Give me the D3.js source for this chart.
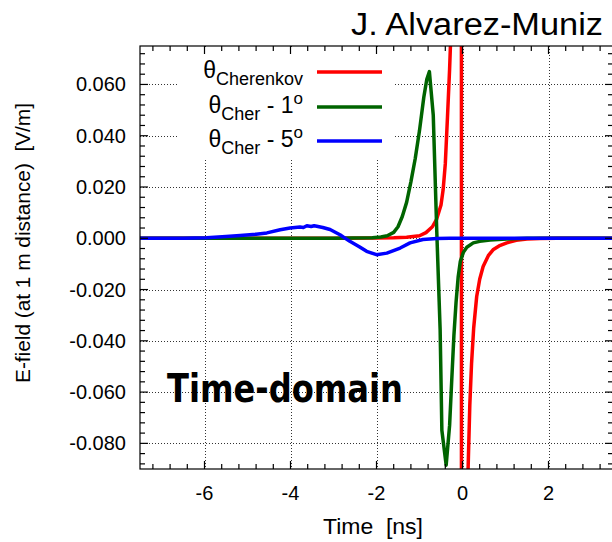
<!DOCTYPE html>
<html>
<head>
<meta charset="utf-8">
<script src="https://cdn.jsdelivr.net/npm/d3@7"></script>
<style>
  body { margin:0; background:#fff; }
  text { font-family: "Liberation Sans", Arial, sans-serif; fill:#000; }
</style>
</head>
<body>
<div id="chart"></div>
<script>
// data (time in ns, field in V/m)
var cherT = [-7.5, -3, -2, -1.6, -1.3, -1.0, -0.85, -0.7, -0.6, -0.5, -0.45, -0.4, -0.35, -0.3, -0.27, -0.2, -0.1, -0.03, -0.02, 0.05, 0.1, 0.13, 0.17, 0.21, 0.26, 0.33, 0.4, 0.48, 0.6, 0.71, 0.85, 1.03, 1.25, 1.5, 1.8, 2.2, 3.5];
var cherV = [0, 0, 0.0001, 0.0002, 0.0004, 0.001, 0.0022, 0.0045, 0.0075, 0.013, 0.019, 0.029, 0.047, 0.066, 0.08, 0.12, 0.4, 0.9, -0.9, -0.4, -0.14, -0.09, -0.065, -0.049, -0.035, -0.0227, -0.016, -0.011, -0.0068, -0.0045, -0.003, -0.0018, -0.0008, -0.0003, -0.0001, 0, 0];

var cher1T = [-7.5, -3, -2.1, -1.9, -1.75, -1.6, -1.5, -1.4, -1.3, -1.2, -1.1, -1.0, -0.9, -0.83, -0.77, -0.68, -0.6, -0.52, -0.48, -0.38, -0.3, -0.25, -0.2, -0.15, -0.1, -0.05, 0.02, 0.1, 0.25, 0.4, 0.64, 1.03, 1.5, 3.5];
var cher1V = [0, 0, 0.0002, 0.0005, 0.001, 0.0023, 0.0045, 0.0085, 0.014, 0.022, 0.031, 0.042, 0.055, 0.062, 0.065, 0.048, 0.0034, -0.0357, -0.0749, -0.0885, -0.073, -0.0553, -0.038, -0.025, -0.015, -0.009, -0.0055, -0.0035, -0.0018, -0.0012, -0.0007, -0.0003, 0, 0];

var cher5T = [-7.5, -6.5, -5.95, -5.5, -5.17, -4.8, -4.55, -4.24, -4.01, -3.78, -3.7, -3.62, -3.52, -3.45, -3.39, -3.25, -3.08, -2.85, -2.62, -2.4, -2.23, -2.0, -1.76, -1.45, -1.22, -0.92, -0.6, -0.3, 3.5];
var cher5V = [0, 0, 0.0002, 0.0007, 0.0011, 0.0016, 0.0021, 0.0033, 0.004, 0.0044, 0.0042, 0.0049, 0.0046, 0.0049, 0.0047, 0.0042, 0.0034, 0.0014, -0.0012, -0.0033, -0.0051, -0.0064, -0.0058, -0.0038, -0.0018, -0.0005, -0.0001, 0, 0];

var xTicks = [-6, -4, -2, 0, 2];
var yTicks = [0.06, 0.04, 0.02, 0, -0.02, -0.04, -0.06, -0.08];

var W = 612, H = 542;
var pLeft = 140, pRight = 613, pTop = 46, pBottom = 469;

var svg = d3.select('#chart').append('svg')
  .attr('width', W).attr('height', H);

var x = d3.scaleLinear().domain([-7.5, 3.5]).range([pLeft, pRight]);
var y = d3.scaleLinear().domain([-0.09, 0.075]).range([pBottom, pTop]);

svg.append('clipPath').attr('id', 'clip')
  .append('rect').attr('x', pLeft).attr('y', pTop)
  .attr('width', pRight - pLeft).attr('height', pBottom - pTop);

// grid
var grid = svg.append('g')
  .attr('stroke', '#333').attr('stroke-width', 1).attr('stroke-dasharray', '1,2');
grid.selectAll('.gx').data(xTicks).enter().append('line')
  .attr('x1', function(d){ return Math.round(x(d)) + 0.5; })
  .attr('x2', function(d){ return Math.round(x(d)) + 0.5; })
  .attr('y1', pTop).attr('y2', pBottom);
grid.selectAll('.gy').data(yTicks).enter().append('line')
  .attr('y1', function(d){ return Math.round(y(d)) + 0.5; })
  .attr('y2', function(d){ return Math.round(y(d)) + 0.5; })
  .attr('x1', pLeft).attr('x2', pRight);

// legend background (opaque, hides grid)
svg.append('rect').attr('x', 177).attr('y', pTop + 1)
  .attr('width', 218).attr('height', 113).attr('fill', '#fff');

// big label
svg.append('text').attr('x', 167).attr('y', 402)
  .style('font-family', '"DejaVu Sans", sans-serif')
  .style('font-weight', 'bold').style('font-size', '39px')
  .attr('textLength', 236).attr('lengthAdjust', 'spacingAndGlyphs')
  .text('Time-domain');

// curves
var line = d3.line()
  .x(function(d){ return x(d[0]); })
  .y(function(d){ return y(d[1]); });

var series = [
  { t: cherT, v: cherV, color: '#ff0000' },
  { t: cher1T, v: cher1V, color: '#006400' },
  { t: cher5T, v: cher5V, color: '#0000ff' }
];
var curves = svg.append('g').attr('clip-path', 'url(#clip)');
series.forEach(function(s){
  curves.append('path')
    .datum(d3.zip(s.t, s.v))
    .attr('fill', 'none')
    .attr('stroke', s.color)
    .attr('stroke-width', 3.5)
    .attr('stroke-linejoin', 'round')
    .attr('d', line);
});

// frame + ticks
var frame = svg.append('g').attr('stroke', '#000').attr('stroke-width', 1.2);
var xMinor = d3.range(-7.2, 3.5, 0.4).map(function(d){ return +d.toFixed(1); });
var yMinor = d3.range(-0.088, 0.075, 0.004).map(function(d){ return +d.toFixed(3); });
xMinor.forEach(function(d){
  var major = Math.abs(d - Math.round(d)) < 1e-6 && Math.round(d) % 2 === 0;
  var len = major ? 8 : 5;
  var px = x(d);
  frame.append('line').attr('x1', px).attr('x2', px).attr('y1', pBottom).attr('y2', pBottom - len);
  frame.append('line').attr('x1', px).attr('x2', px).attr('y1', pTop).attr('y2', pTop + len);
});
yMinor.forEach(function(d){
  var major = Math.abs(d * 50 - Math.round(d * 50)) < 1e-6;
  var len = major ? 8 : 5;
  var py = y(d);
  frame.append('line').attr('y1', py).attr('y2', py).attr('x1', pLeft).attr('x2', pLeft + len);
  frame.append('line').attr('y1', py).attr('y2', py).attr('x1', pRight).attr('x2', pRight - len);
});
frame.append('rect').attr('x', pLeft).attr('y', pTop)
  .attr('width', pRight - pLeft).attr('height', pBottom - pTop).attr('fill', 'none');

// tick labels
svg.selectAll('.xl').data(xTicks).enter().append('text')
  .attr('x', function(d){ return x(d); }).attr('y', 500)
  .attr('text-anchor', 'middle').style('font-size', '20px')
  .text(function(d){ return d; });
svg.selectAll('.yl').data(yTicks).enter().append('text')
  .attr('x', 126).attr('y', function(d){ return y(d) + 7; })
  .attr('text-anchor', 'end').style('font-size', '20px')
  .text(function(d){ return d3.format('.3f')(d).replace('−', '-'); });

// axis titles
svg.append('text').attr('x', 323).attr('y', 534)
  .style('font-size', '22px')
  .attr('textLength', 100).attr('lengthAdjust', 'spacingAndGlyphs')
  .attr('xml:space', 'preserve').text('Time  [ns]');
svg.append('text').attr('transform', 'translate(30,383) rotate(-90)')
  .style('font-size', '21px')
  .attr('textLength', 280).attr('lengthAdjust', 'spacingAndGlyphs')
  .attr('xml:space', 'preserve').text('E-field (at 1 m distance)  [V/m]');

svg.append('text').attr('x', 603).attr('y', 35)
  .attr('text-anchor', 'end').style('font-size', '31px')
  .attr('textLength', 252).attr('lengthAdjust', 'spacingAndGlyphs')
  .text('J. Alvarez-Muniz');

// legend
var legend = [
  { sub: 'Cherenkov', rest: '', sup: '', color: '#ff0000', ly: 72 },
  { sub: 'Cher', rest: ' - 1', sup: 'o', color: '#006400', ly: 107 },
  { sub: 'Cher', rest: ' - 5', sup: 'o', color: '#0000ff', ly: 141 }
];
legend.forEach(function(l){
  var t = svg.append('text').attr('x', 303).attr('y', l.ly + 6)
    .attr('text-anchor', 'end').attr('xml:space', 'preserve').style('font-size', '23px');
  t.append('tspan').text('θ');
  t.append('tspan').attr('dy', 7).style('font-size', '18px').text(l.sub);
  if (l.rest) {
    t.append('tspan').attr('dy', -7).text(l.rest);
    t.append('tspan').attr('dy', -9).style('font-size', '17px').text(l.sup);
  }
  svg.append('line').attr('x1', 317).attr('x2', 382)
    .attr('y1', l.ly).attr('y2', l.ly)
    .attr('stroke', l.color).attr('stroke-width', 3.5);
});
</script>
</body>
</html>
